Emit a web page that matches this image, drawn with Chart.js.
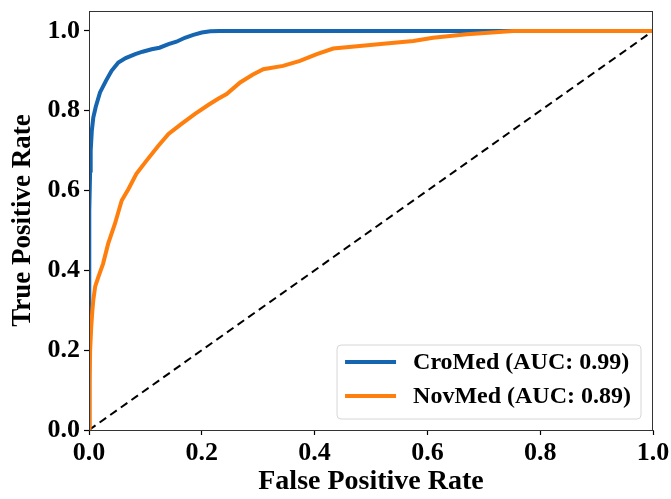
<!DOCTYPE html>
<html>
<head>
<meta charset="utf-8">
<script src="https://cdn.jsdelivr.net/npm/chart.js@4.4.0/dist/chart.umd.min.js"></script>
<style>
html,body{margin:0;padding:0;background:#fff;}
#wrap{width:671px;height:499px;}
</style>
</head>
<body>
<div id="wrap"><canvas id="c" width="671" height="499"></canvas></div>
<script>
// ---- data ----
const seriesLabels = ['CroMed (AUC: 0.99)', 'NovMed (AUC: 0.89)'];
const croFpr = [0, 0, 0.001, 0.002, 0.003, 0.005, 0.0076, 0.012, 0.0195, 0.03, 0.04, 0.052, 0.065, 0.082, 0.095, 0.111, 0.125, 0.141, 0.155, 0.17, 0.185, 0.2, 0.215, 0.232, 1];
const croTpr = [0, 0.3, 0.55, 0.65, 0.7, 0.75, 0.783, 0.81, 0.846, 0.875, 0.9, 0.921, 0.932, 0.942, 0.948, 0.954, 0.958, 0.967, 0.973, 0.983, 0.99, 0.996, 0.999, 1.0, 1.0];
const novFpr = [0, 0.001, 0.002, 0.004, 0.006, 0.0076, 0.011, 0.0165, 0.025, 0.034, 0.046, 0.058, 0.07, 0.084, 0.102, 0.123, 0.141, 0.164, 0.188, 0.212, 0.229, 0.244, 0.268, 0.29, 0.309, 0.344, 0.374, 0.404, 0.433, 0.48, 0.522, 0.575, 0.61, 0.67, 0.752, 1];
const novTpr = [0, 0.12, 0.2, 0.26, 0.3, 0.325, 0.36, 0.383, 0.417, 0.467, 0.517, 0.575, 0.604, 0.642, 0.675, 0.7125, 0.742, 0.767, 0.792, 0.815, 0.83, 0.842, 0.871, 0.89, 0.904, 0.9125, 0.925, 0.942, 0.956, 0.9625, 0.968, 0.975, 0.983, 0.992, 1.0, 1.0];
const chanceFpr = [0, 1];
const chanceTpr = [0, 1];
const xTickValues = [0, 0.2, 0.4, 0.6, 0.8, 1.0];
const yTickValues = [0, 0.2, 0.4, 0.6, 0.8, 1.0];

const pts = (xs, ys) => xs.map((x, i) => ({x: x, y: ys[i]}));
const SERIF = '"Liberation Serif", "Times New Roman", serif';

const frameAndLegend = {
  id: 'frameAndLegend',
  afterDatasetsDraw(chart) {
    const {ctx, chartArea: a} = chart;
    ctx.save();
    ctx.strokeStyle = '#333';
    ctx.lineWidth = 1;
    ctx.strokeRect(a.left + 0.5, a.top + 0.5, a.right - a.left - 1, a.bottom - a.top);
    ctx.restore();
  },
  afterDraw(chart) {
    const {ctx, chartArea: a} = chart;
    const items = chart.data.datasets.filter(d => d.inLegend);
    ctx.save();
    ctx.font = 'bold 24px ' + SERIF;
    let tw = 0;
    items.forEach(d => { tw = Math.max(tw, ctx.measureText(d.label).width); });
    const lineLen = 51, pad = 8, gap = 17, rowH = 34;
    const w = pad + lineLen + gap + tw + 10;
    const h = 74;
    const x0 = a.right - 12 - w;
    const y0 = a.bottom - 11 - h;
    const r = 4;
    ctx.beginPath();
    ctx.moveTo(x0 + r, y0);
    ctx.arcTo(x0 + w, y0, x0 + w, y0 + h, r);
    ctx.arcTo(x0 + w, y0 + h, x0, y0 + h, r);
    ctx.arcTo(x0, y0 + h, x0, y0, r);
    ctx.arcTo(x0, y0, x0 + w, y0, r);
    ctx.closePath();
    ctx.fillStyle = 'rgba(255,255,255,0.85)';
    ctx.fill();
    ctx.strokeStyle = '#d6d6d6';
    ctx.lineWidth = 1;
    ctx.stroke();
    items.forEach((d, i) => {
      const cy = y0 + 17 + i * rowH;
      ctx.beginPath();
      ctx.moveTo(x0 + pad, cy);
      ctx.lineTo(x0 + pad + lineLen, cy);
      ctx.strokeStyle = d.borderColor;
      ctx.lineWidth = 4;
      ctx.stroke();
      ctx.fillStyle = '#000';
      ctx.textBaseline = 'middle';
      ctx.textAlign = 'left';
      ctx.fillText(d.label, x0 + pad + lineLen + gap, cy + 1);
    });
    ctx.restore();
  }
};

new Chart(document.getElementById('c'), {
  type: 'scatter',
  data: {
    datasets: [
      {label: seriesLabels[0], data: pts(croFpr, croTpr), showLine: true, borderColor: '#1565b0', borderWidth: 4, pointRadius: 0, fill: false, order: 2, inLegend: true, tension: 0},
      {label: seriesLabels[1], data: pts(novFpr, novTpr), showLine: true, borderColor: '#ff7f0e', borderWidth: 4, pointRadius: 0, fill: false, order: 1, inLegend: true, tension: 0},
      {label: 'chance', data: pts(chanceFpr, chanceTpr), showLine: true, borderColor: '#000', borderWidth: 2, borderDash: [8, 5], pointRadius: 0, fill: false, order: 3, inLegend: false}
    ]
  },
  options: {
    responsive: false,
    animation: false,
    devicePixelRatio: 1,
    layout: {padding: {top: 11, right: 18, left: 0, bottom: 0}},
    plugins: {legend: {display: false}, tooltip: {enabled: false}},
    scales: {
      x: {
        type: 'linear', min: 0, max: 1,
        afterBuildTicks: s => { s.ticks = xTickValues.map(v => ({value: v})); },
        afterFit: s => { s.height = 69; s.paddingLeft = 0; s.paddingRight = 0; },
        grid: {display: true, drawOnChartArea: false, drawTicks: true, tickLength: 5, tickColor: '#000', tickWidth: 1.2},
        border: {display: true, color: '#333', width: 1},
        ticks: {color: '#000', padding: 3, maxRotation: 0, font: {family: SERIF, size: 26, weight: 'bold'}, callback: v => Number(v).toFixed(1)},
        title: {display: true, text: 'False Positive Rate', color: '#000', padding: {top: 0, bottom: 0}, font: {family: SERIF, size: 28, weight: 'bold'}}
      },
      y: {
        type: 'linear', min: 0, max: 1.05,
        afterBuildTicks: s => { s.ticks = yTickValues.map(v => ({value: v})); },
        afterFit: s => { s.width = 89; s.paddingTop = 0; s.paddingBottom = 0; },
        grid: {display: true, drawOnChartArea: false, drawTicks: true, tickLength: 5, tickColor: '#000', tickWidth: 1.2},
        border: {display: true, color: '#333', width: 1},
        ticks: {color: '#000', padding: 4, font: {family: SERIF, size: 26, weight: 'bold'}, callback: v => Number(v).toFixed(1)},
        title: {display: true, text: 'True Positive Rate', color: '#000', padding: {top: 7, bottom: 7}, font: {family: SERIF, size: 27, weight: 'bold'}}
      }
    }
  },
  plugins: [frameAndLegend]
});
</script>
</body>
</html>
